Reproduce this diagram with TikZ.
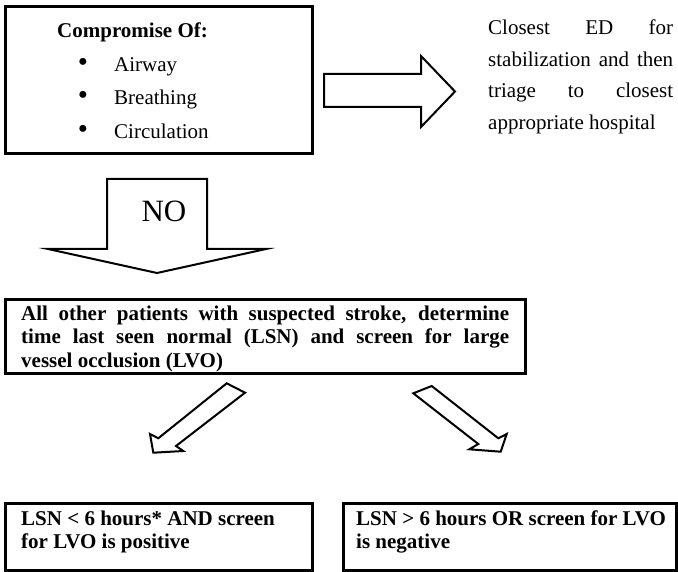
\documentclass[tikz,border=0pt]{standalone}
\usepackage{fontspec}
\setmainfont{Liberation Serif}
\begin{document}
\begin{tikzpicture}[x=1pt,y=-1pt,
  box/.style={draw, line width=3pt, inner sep=0pt, outer sep=0pt, anchor=north west},
  blockarrow/.style={draw, line width=2pt, line join=miter, miter limit=10, fill=white},
  txt/.style={inner sep=0pt, anchor=base west, font=\fontsize{21}{25}\selectfont},
  bultxt/.style={inner sep=0pt, anchor=base, font=\fontsize{29}{30}\selectfont},
  btxt/.style={inner sep=0pt, anchor=base west, font=\fontsize{21}{25}\selectfont\bfseries},
  notxt/.style={inner sep=0pt, anchor=base, font=\fontsize{31}{35}\selectfont}]
\fill[white] (0,0) rectangle (678,572);
\useasboundingbox (0,0) rectangle (678,572);

% top box
\node[box, minimum width=307pt, minimum height=147pt] (abc) at (5,7) {};
\node[btxt] (abctitle) at (57,38) {Compromise Of:};
\node[bultxt] (bul1) at (83,72) {•};
\node[bultxt] (bul2) at (83,105) {•};
\node[bultxt] (bul3) at (83,139) {•};
\node[txt] (air) at (114,72) {Airway};
\node[txt] (bre) at (114,105) {Breathing};
\node[txt] (cir) at (114,139) {Circulation};

% right block arrow
\draw[blockarrow] (324,74) -- (421,74) -- (421,56) -- (455,91.5) -- (421,127) -- (421,107) -- (324,107) -- cycle;

% right text
\node[txt] (ed1) at (488,35) {\makebox[185pt][s]{Closest ED for}};
\node[txt] (ed2) at (488,66.5) {\makebox[185pt][s]{stabilization and then}};
\node[txt] (ed3) at (488,98) {\makebox[185pt][s]{triage to closest}};
\node[txt] (ed4) at (488,129.5) {appropriate hospital};

% NO block arrow
\draw[blockarrow] (107,179) -- (207,179) -- (207,249) -- (266,249) -- (157,273) -- (48,249) -- (107,249) -- cycle;
\node[notxt] (no) at (164,222) {NO};

% middle box
\node[box, minimum width=520pt, minimum height=73pt] (mid) at (5,300) {};
\node[btxt] (mid1) at (21,320) {\makebox[488pt][s]{All other patients with suspected stroke, determine}};
\node[btxt] (mid2) at (21,344) {\makebox[488pt][s]{time last seen normal (LSN) and screen for large}};
\node[btxt] (mid3) at (21,367) {vessel occlusion (LVO)};

% diagonal block arrows
\draw[blockarrow] (226.7,383.3) -- (245,392.7) -- (176,446) -- (183.3,451) -- (153.3,452.7) -- (150,434) -- (158.3,438.3) -- cycle;
\draw[blockarrow] (413.3,393.3) -- (431.7,386) -- (498.3,438.3) -- (506.7,434) -- (500.7,451.7) -- (469.3,449.3) -- (478.3,444) -- cycle;

% bottom boxes
\node[box, minimum width=307pt, minimum height=67pt] (pos) at (5,503) {};
\node[btxt] (pos1) at (21,525) {LSN < 6 hours* AND screen};
\node[btxt] (pos2) at (21,548) {for LVO is positive};
\node[box, minimum width=333pt, minimum height=67pt] (neg) at (343,503) {};
\node[btxt] (neg1) at (356,525) {LSN > 6 hours OR screen for LVO};
\node[btxt] (neg2) at (356,548) {is negative};
\end{tikzpicture}
\end{document}
